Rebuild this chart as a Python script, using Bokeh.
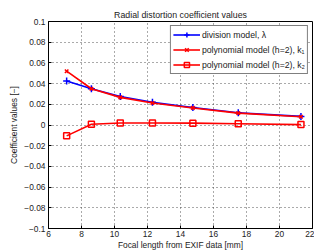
from bokeh.plotting import figure
from bokeh.embed import file_html
from bokeh.resources import INLINE
from bokeh.models import FixedTicker, Range1d, Legend, LegendItem

focal = [7.1, 8.6, 10.35, 12.3, 14.75, 17.5, 21.3]
lam = [0.0426, 0.0350, 0.0276, 0.0219, 0.0169, 0.0118, 0.0083]
k1 = [0.0520, 0.0350, 0.0267, 0.0213, 0.0165, 0.0115, 0.0080]
k2 = [-0.0105, 0.0007, 0.0020, 0.0019, 0.0018, 0.0012, 0.0004]
x_ticks = [6, 8, 10, 12, 14, 16, 18, 20, 22]
y_ticks = [-0.1, -0.08, -0.06, -0.04, -0.02, 0, 0.02, 0.04, 0.06, 0.08, 0.1]

FONT = "Liberation Sans"

p = figure(width=314, height=252, output_backend="svg", toolbar_location=None,
           x_range=Range1d(6, 22), y_range=Range1d(-0.1, 0.1),
           title="Radial distortion coefficient values",
           min_border_left=48, min_border_right=2, min_border_top=21, min_border_bottom=0)
p.title.align = "center"
p.title.text_font = FONT
p.title.text_font_size = "8.8px"
p.title.text_font_style = "normal"
p.title.text_color = "#222222"
p.title.offset = 0
p.title.standoff = 4

p.outline_line_color = "black"
p.outline_line_width = 1
p.outline_line_alpha = 1

for ax in (p.xaxis[0], p.yaxis[0]):
    ax.major_label_text_font = FONT
    ax.major_label_text_font_size = "8.4px"
    ax.major_label_text_color = "#222222"
    ax.axis_label_text_font = FONT
    ax.axis_label_text_font_size = "8.4px"
    ax.axis_label_text_font_style = "normal"
    ax.axis_label_text_color = "#222222"
    ax.major_tick_in = 3
    ax.major_tick_out = 0
    ax.minor_tick_in = 0
    ax.minor_tick_out = 0
    ax.axis_line_color = "black"
    ax.major_tick_line_color = "black"
    ax.major_label_standoff = 3
    ax.axis_label_standoff = 2

p.xaxis[0].major_label_standoff = 2
p.xaxis[0].axis_label_standoff = 0
p.xaxis.ticker = FixedTicker(ticks=x_ticks)
p.yaxis.ticker = FixedTicker(ticks=y_ticks)
p.xaxis.axis_label = "Focal length from EXIF data [mm]"
p.yaxis.axis_label = "Coefficient values [\u2212]"

def fmt(v):
    s = ("%g" % v)
    return s.replace("-", "\u2212")
p.yaxis.major_label_overrides = {v: fmt(v) for v in y_ticks}

p.xgrid.ticker = FixedTicker(ticks=x_ticks)
p.ygrid.ticker = FixedTicker(ticks=y_ticks)
for g in (p.xgrid[0], p.ygrid[0]):
    g.grid_line_color = "#444444"
    g.grid_line_dash = "1 3"
    g.grid_line_width = 1
    g.grid_line_alpha = 0.9

blue = "#0000ff"
red = "#ff0000"

l1 = p.line(focal, lam, line_color=blue, line_width=1.6)
m1 = p.scatter(focal, lam, marker="cross", size=7, line_color=blue, line_width=1.5)
l2 = p.line(focal, k1, line_color=red, line_width=1.6)
m2 = p.scatter(focal, k1, marker="x", size=5, line_color=red, line_width=1.5)
l3 = p.line(focal, k2, line_color=red, line_width=1.6)
m3 = p.scatter(focal, k2, marker="square", size=6, line_color=red, fill_color=None, line_width=1.5)

legend = Legend(items=[
    LegendItem(label="division model, \u03bb", renderers=[l1, m1]),
    LegendItem(label="polynomial model (h=2), k\u2081", renderers=[l2, m2]),
    LegendItem(label="polynomial model (h=2), k\u2082", renderers=[l3, m3]),
], location="top_right")
legend.label_text_font = FONT
legend.label_text_font_size = "8.7px"
legend.label_text_color = "#222222"
legend.border_line_color = "black"
legend.border_line_width = 1
legend.background_fill_alpha = 1
legend.margin = 4
legend.padding = 2
legend.spacing = 2
legend.glyph_width = 27
legend.glyph_height = 13
legend.label_height = 13
legend.label_standoff = 2
p.add_layout(legend)

open("out.html", "w").write(file_html(p, INLINE))
